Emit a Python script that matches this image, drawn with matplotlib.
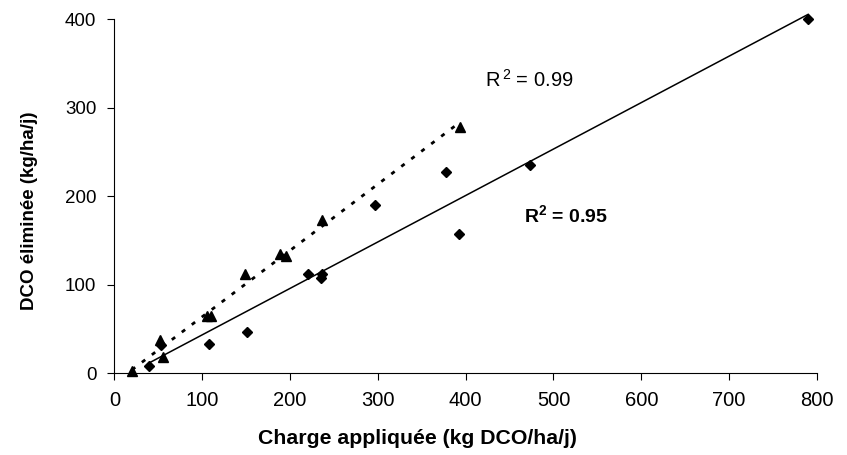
import numpy as np
import matplotlib
matplotlib.use("Agg")
import matplotlib.pyplot as plt

plt.rcParams['font.family'] = ['Liberation Sans', 'DejaVu Sans']
plt.rcParams['mathtext.fontset'] = 'custom'
plt.rcParams['mathtext.rm'] = 'Liberation Sans'
plt.rcParams['mathtext.bf'] = 'Liberation Sans:bold'

# triangles (dotted trendline)
tri_x = [20, 52, 55, 105, 110, 149, 189, 196, 237, 394]
tri_y = [2, 37, 18, 65, 64, 112, 135, 132, 173, 278]

# diamonds (solid trendline)
dia_x = [40, 53, 108, 151, 221, 235, 237, 297, 378, 392, 473, 790]
dia_y = [8, 32, 33, 46, 112, 108, 112, 190, 227, 157, 235, 400]

x_ticks = [0, 100, 200, 300, 400, 500, 600, 700, 800]
y_ticks = [0, 100, 200, 300, 400]

fig = plt.figure(figsize=(8.47, 4.55), dpi=100)
ax = fig.add_axes([0.135, 0.180, 0.8295, 0.778])

# trendlines (least squares, drawn over the data range)
for xs, ys, ls, lw in [(tri_x, tri_y, (0, (1.5, 3)), 2.0),
                       (dia_x, dia_y, '-', 1.1)]:
    k, b = np.polyfit(xs, ys, 1)
    xx = np.array([min(xs), max(xs)])
    ax.plot(xx, k * xx + b, color='black', linestyle=ls, linewidth=lw,
            zorder=2, clip_on=False)

ax.plot(tri_x, tri_y, linestyle='none', marker='^', markersize=7,
        color='black', zorder=3, clip_on=False)
ax.plot(dia_x, dia_y, linestyle='none', marker='D', markersize=5.5,
        color='black', zorder=3, clip_on=False)

ax.set_xlim(0, 800)
ax.set_ylim(0, 400)
ax.set_xticks(x_ticks)
ax.set_yticks(y_ticks)
ax.tick_params(axis='x', labelsize=14.5, length=5, width=0.8, pad=8)
ax.tick_params(axis='y', labelsize=13.5, length=5, width=0.8, pad=8)
for s in ['top', 'right']:
    ax.spines[s].set_visible(False)
for s in ['left', 'bottom']:
    ax.spines[s].set_linewidth(0.8)

ax.set_xlabel('Charge appliquée (kg DCO/ha/j)', fontsize=15.3,
              fontweight='bold')
ax.xaxis.set_label_coords(0.431, -0.158)
ax.set_ylabel('DCO éliminée (kg/ha/j)', fontsize=13.5, fontweight='bold')
ax.yaxis.set_label_coords(-0.109, 0.458)

ax.text(422, 331, r'R$^{\,2}$ = 0.99', fontsize=14.5, ha='left', va='center')
ax.text(467, 178, r'$\mathbf{R^{2}}$ = 0.95', fontsize=14,
        fontweight='bold', ha='left', va='center')

fig.savefig('out.png', dpi=100, facecolor='white')
